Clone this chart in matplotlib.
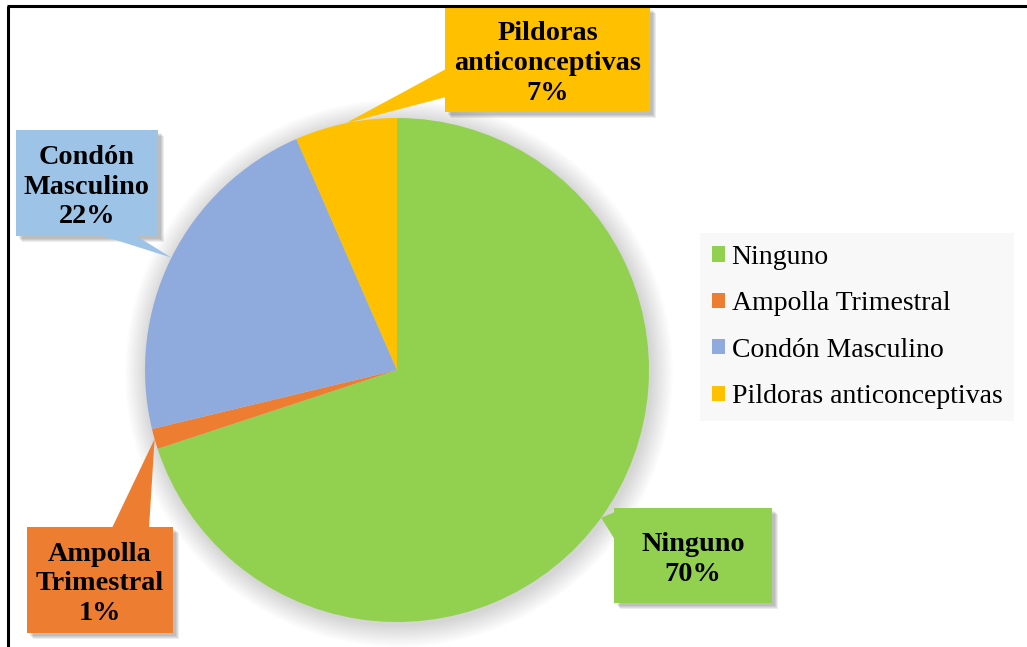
import numpy as np
from matplotlib import pyplot as plt
from matplotlib.patches import Rectangle, Polygon, Circle

# data
labels = ['Ninguno', 'Ampolla Trimestral', 'Condón Masculino', 'Pildoras anticonceptivas']
box_texts = ['Ninguno', 'Ampolla\nTrimestral', 'Condón\nMasculino', 'Pildoras\nanticonceptivas']
counts = [107, 2, 34, 10]
colors = ['#92D050', '#ED7D31', '#8FAADC', '#FFC000']
box_colors = ['#92D050', '#ED7D31', '#9DC3E6', '#FFC000']

W, H = 1027, 647

# callout layout in pixels (top-left origin): box x0, x1, y0, y1, pointer side, base start, base end
callouts = [
    (614, 772, 508, 603, 'left', 512, 540),
    (27, 173, 527, 633, 'top', 112, 149),
    (16, 158, 130, 236, 'bottom', 100, 135),
    (445, 650, 7, 112, 'left', 69, 97),
]

fig = plt.figure(figsize=(W / 100, H / 100), dpi=100)
ax = fig.add_axes([0, 0, 1, 1])

cx, cy, r = 397, H - 370, 252

# soft shadow round the pie
for i in range(14):
    ax.add_patch(Circle((cx + 2, cy - 3), r + 1 + i * 1.6, color='black', alpha=0.012, lw=0, zorder=1))

wedges, _ = ax.pie(counts, colors=colors, startangle=90, counterclock=False,
                   center=(cx, cy), radius=r, frame=True,
                   wedgeprops=dict(linewidth=0, zorder=2))
ax.set_xlim(0, W)
ax.set_ylim(0, H)
ax.set_aspect('equal')
ax.axis('off')

total = sum(counts)
for w, n, txt, bc, (x0, x1, y0, y1, side, b0, b1) in zip(wedges, counts, box_texts, box_colors, callouts):
    mid = np.deg2rad((w.theta1 + w.theta2) / 2)
    tip = (cx + r * np.cos(mid), cy + r * np.sin(mid))
    # flip y to data coords
    Y0, Y1 = H - y1, H - y0
    if side == 'left':
        base = [(x0 + 1, H - b0), (x0 + 1, H - b1)]
    elif side == 'top':
        base = [(b0, Y1 - 1), (b1, Y1 - 1)]
    else:
        base = [(b0, Y0 + 1), (b1, Y0 + 1)]
    # shadow
    for k in range(4):
        ax.add_patch(Rectangle((x0 + 3 + k, Y0 - 3 - k), x1 - x0, Y1 - Y0,
                               color='black', alpha=0.07, lw=0, zorder=5))
    ax.add_patch(Polygon([tip] + base, closed=True, color=bc, lw=0, zorder=6))
    ax.add_patch(Rectangle((x0, Y0), x1 - x0, Y1 - Y0, color=bc, lw=0, zorder=6))
    pct = round(100 * n / total)
    ax.text((x0 + x1) / 2, (Y0 + Y1) / 2 - 4, f'{txt}\n{pct}%', ha='center', va='center',
            family='Liberation Serif', fontweight='bold', fontsize=20.3, linespacing=1.26, zorder=7)

# legend
leg = fig.legend(wedges, labels, loc='center left', bbox_to_anchor=(0.6816, 0.4946),
                 prop={'family': 'Liberation Serif', 'size': 20},
                 handlelength=0.47, handleheight=0.47, handletextpad=0.25,
                 labelspacing=0.77, borderpad=0.42, borderaxespad=0, frameon=True, fancybox=False)
leg.get_frame().set_facecolor('#F8F8F8')
leg.get_frame().set_edgecolor('none')
leg.get_frame().set_alpha(1)
for t in leg.get_texts():
    t.set_color('black')

# frame lines (top and left)
ax.plot([7, W], [H - 5.5, H - 5.5], color='black', lw=2.2, solid_capstyle='butt', zorder=10)
ax.plot([7.5, 7.5], [0, H - 5.5], color='black', lw=2.2, solid_capstyle='butt', zorder=10)

fig.savefig('out.png', dpi=100)
